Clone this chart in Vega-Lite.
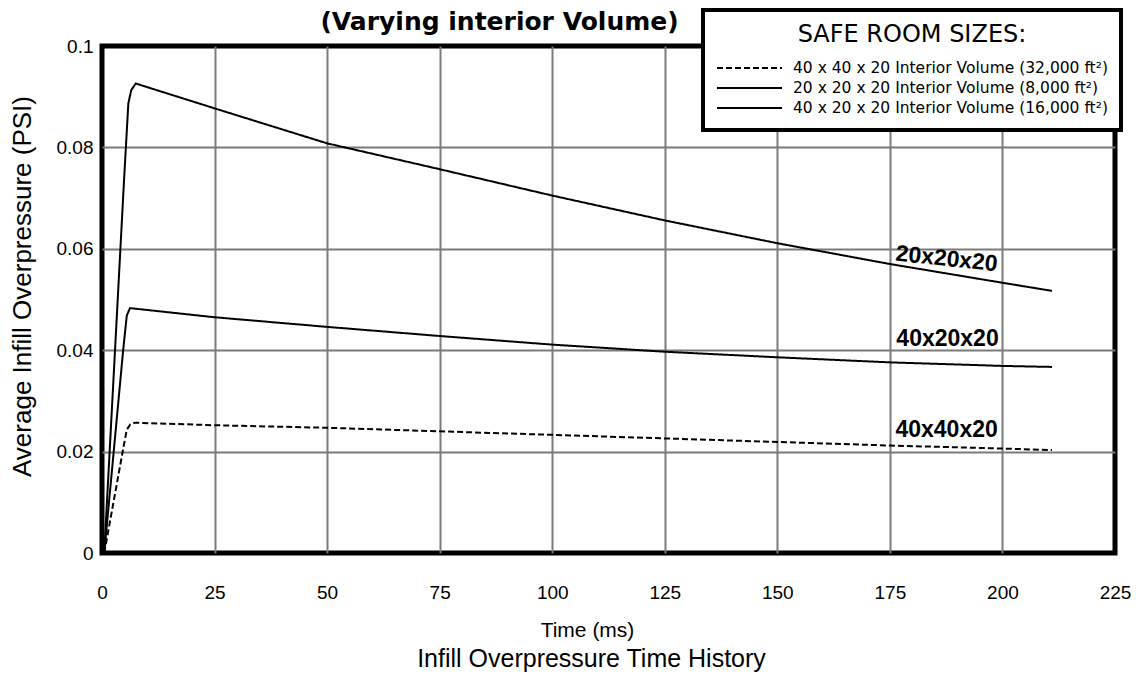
{
  "$schema": "https://vega.github.io/schema/vega-lite/v6.json",
  "width": 1013,
  "height": 507,
  "autosize": {"type": "none"},
  "padding": {"left": 102, "top": 46, "right": 21, "bottom": 121},
  "background": "white",
  "config": {
    "view": {"stroke": "black", "strokeWidth": 5},
    "font": "Liberation Sans",
    "axis": {
      "labelFont": "Liberation Sans",
      "titleFont": "Liberation Sans",
      "labelColor": "black",
      "titleColor": "black",
      "titleFontWeight": "normal",
      "domain": false,
      "ticks": false,
      "labelFlush": false,
      "gridColor": "#7a7a7a",
      "gridWidth": 2,
      "titleLimit": 1000
    }
  },
  "title": {
    "text": "Infill Overpressure Time History",
    "orient": "bottom",
    "anchor": "middle",
    "font": "Liberation Sans",
    "fontSize": 25,
    "fontWeight": "normal",
    "color": "black",
    "dx": -17,
    "offset": 7
  },
  "resolve": {"axis": {"x": "independent"}},
  "layer": [
    {
      "data": {
        "values": [
          {"s": "40x40x20", "time": 0.5, "psi": 0},
          {"s": "40x40x20", "time": 4.8, "psi": 0.021},
          {"s": "40x40x20", "time": 5.5, "psi": 0.0243},
          {"s": "40x40x20", "time": 6.3, "psi": 0.0254},
          {"s": "40x40x20", "time": 7.3, "psi": 0.0257},
          {"s": "40x40x20", "time": 25, "psi": 0.0252},
          {"s": "40x40x20", "time": 50, "psi": 0.0247},
          {"s": "40x40x20", "time": 75, "psi": 0.024},
          {"s": "40x40x20", "time": 100, "psi": 0.0233},
          {"s": "40x40x20", "time": 125, "psi": 0.0226},
          {"s": "40x40x20", "time": 150, "psi": 0.0219},
          {"s": "40x40x20", "time": 175, "psi": 0.0212},
          {"s": "40x40x20", "time": 200, "psi": 0.0206},
          {"s": "40x40x20", "time": 211, "psi": 0.0203},
          {"s": "20x20x20", "time": 0.5, "psi": 0},
          {"s": "20x20x20", "time": 4.9, "psi": 0.0736},
          {"s": "20x20x20", "time": 5.85, "psi": 0.0887},
          {"s": "20x20x20", "time": 6.5, "psi": 0.0913},
          {"s": "20x20x20", "time": 7.5, "psi": 0.0926},
          {"s": "20x20x20", "time": 25, "psi": 0.0877},
          {"s": "20x20x20", "time": 50, "psi": 0.0808},
          {"s": "20x20x20", "time": 75, "psi": 0.0757},
          {"s": "20x20x20", "time": 100, "psi": 0.0705},
          {"s": "20x20x20", "time": 125, "psi": 0.0656},
          {"s": "20x20x20", "time": 150, "psi": 0.0611},
          {"s": "20x20x20", "time": 175, "psi": 0.057},
          {"s": "20x20x20", "time": 200, "psi": 0.0533},
          {"s": "20x20x20", "time": 211, "psi": 0.0517},
          {"s": "40x20x20", "time": 0.5, "psi": 0},
          {"s": "40x20x20", "time": 4.7, "psi": 0.04},
          {"s": "40x20x20", "time": 5.5, "psi": 0.0468},
          {"s": "40x20x20", "time": 6.2, "psi": 0.0483},
          {"s": "40x20x20", "time": 25, "psi": 0.0465},
          {"s": "40x20x20", "time": 50, "psi": 0.0446},
          {"s": "40x20x20", "time": 75, "psi": 0.0428},
          {"s": "40x20x20", "time": 100, "psi": 0.0411},
          {"s": "40x20x20", "time": 125, "psi": 0.0397},
          {"s": "40x20x20", "time": 150, "psi": 0.0386},
          {"s": "40x20x20", "time": 175, "psi": 0.0376},
          {"s": "40x20x20", "time": 200, "psi": 0.0369},
          {"s": "40x20x20", "time": 211, "psi": 0.0367}
        ]
      },
      "mark": {"type": "line", "color": "black", "strokeWidth": 2},
      "encoding": {
        "x": {
          "field": "time",
          "type": "quantitative",
          "scale": {"domain": [0, 225], "nice": false},
          "axis": {
            "title": "Time (ms)",
            "values": [0, 25, 50, 75, 100, 125, 150, 175, 200, 225],
            "labelFontSize": 19,
            "labelPadding": 30,
            "labelFlush": false,
            "titleFontSize": 21,
            "titleX": 485,
            "titleY": 77,
            "titleAlign": "center",
            "titleBaseline": "middle",
            "titleLimit": 1000,
            "gridOpacity": {"condition": {"test": "datum.value == 0 || datum.value == 225", "value": 0}, "value": 1}
          }
        },
        "y": {
          "field": "psi",
          "type": "quantitative",
          "scale": {"domain": [0, 0.1], "nice": false},
          "axis": {
            "title": "Average Infill Overpressure (PSI)",
            "values": [0, 0.02, 0.04, 0.06, 0.08, 0.1],
            "format": "~g",
            "labelFontSize": 19,
            "labelPadding": 9,
            "labelFlush": false,
            "titleFontSize": 26,
            "titleX": -80,
            "titleY": 240,
            "titleAngle": -90,
            "titleAlign": "center",
            "titleBaseline": "middle",
            "titleLimit": 1000,
            "gridOpacity": {"condition": {"test": "datum.value == 0 || datum.value == 0.1", "value": 0}, "value": 1}
          }
        },
        "detail": {"field": "s", "type": "nominal"},
        "strokeDash": {
          "field": "s",
          "type": "nominal",
          "scale": {"domain": ["40x40x20", "20x20x20", "40x20x20"], "range": [[6, 3], [1, 0], [1, 0]]},
          "legend": {
            "orient": "none",
            "legendX": 601,
            "legendY": -36,
            "title": "SAFE ROOM SIZES:",
            "titleFont": "DejaVu Sans",
            "titleFontSize": 24,
            "titleFontWeight": "normal",
            "titleColor": "black",
            "titleAnchor": "middle",
            "titleLimit": 1000,
            "titlePadding": 13,
            "labelFont": "DejaVu Sans",
            "labelFontSize": 15.5,
            "labelColor": "black",
            "labelLimit": 0,
            "labelOffset": 10,
            "labelExpr": "datum.label == '40x40x20' ? '40 x 40 x 20 Interior Volume (32,000 ft²)' : datum.label == '20x20x20' ? '20 x 20 x 20 Interior Volume (8,000 ft²)' : '40 x 20 x 20 Interior Volume (16,000 ft²)'",
            "symbolType": "stroke",
            "symbolSize": 4225,
            "symbolStrokeWidth": 2,
            "symbolStrokeColor": "black",
            "clipHeight": 16,
            "rowPadding": 3,
            "padding": 13,
            "strokeColor": "black",
            "fillColor": "white",
            "encode": {"legend": {"update": {"strokeWidth": {"value": 4}}}}
          }
        }
      }
    },
    {
      "data": {
        "values": [
          {"name": "20x20x20", "time": 187.6, "psi": 0.058},
          {"name": "40x20x20", "time": 187.8, "psi": 0.0422},
          {"name": "40x40x20", "time": 187.6, "psi": 0.0243}
        ]
      },
      "mark": {"type": "text", "font": "Liberation Sans", "fontWeight": "bold", "fontSize": 23, "align": "center", "baseline": "middle", "color": "black"},
      "encoding": {
        "x": {
          "field": "time",
          "type": "quantitative",
          "scale": {"domain": [0, 225], "nice": false},
          "axis": {
            "orient": "top",
            "title": "(Varying interior Volume)",
            "titleFont": "DejaVu Sans",
            "titleFontWeight": "bold",
            "titleFontSize": 25,
            "titleX": 397,
            "titleY": -17,
            "titleAlign": "center",
            "titleBaseline": "alphabetic",
            "titleLimit": 1000,
            "labels": false,
            "grid": false,
            "ticks": false,
            "domain": false
          }
        },
        "y": {"field": "psi", "type": "quantitative", "scale": {"domain": [0, 0.1], "nice": false}},
        "text": {"field": "name"},
        "angle": {"condition": {"test": "datum.name == '20x20x20'", "value": 6}, "value": 0}
      }
    }
  ]
}
